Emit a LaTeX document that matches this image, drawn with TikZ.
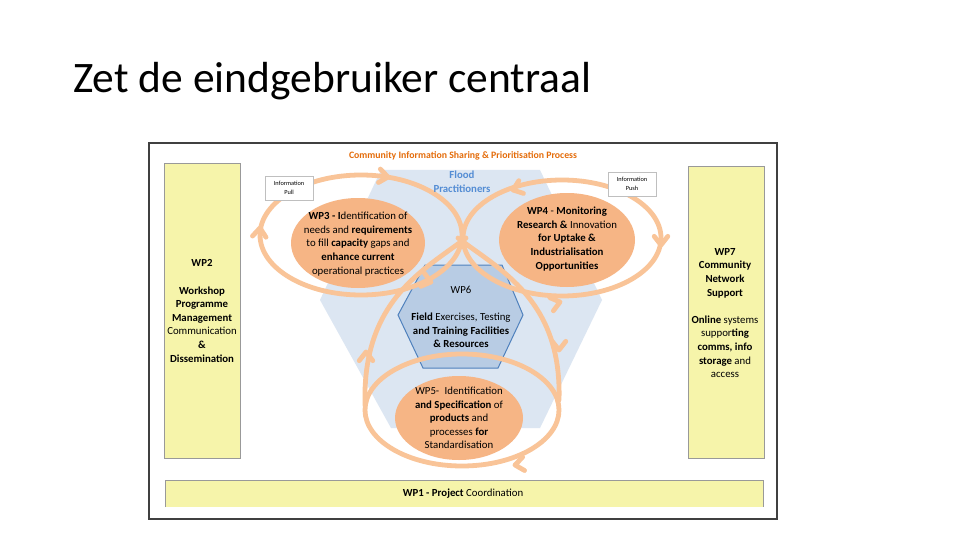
\documentclass[tikz,border=0pt]{standalone}
\usepackage{fontspec}
\setmainfont{Carlito}
\usetikzlibrary{calc}
\definecolor{ringc}{RGB}{249,196,152}
\definecolor{fillc}{RGB}{246,181,133}
\definecolor{yel}{RGB}{246,244,170}
\definecolor{hexbg}{RGB}{220,230,242}
\definecolor{hexwp}{RGB}{184,204,228}
\definecolor{hexbd}{RGB}{79,129,189}
\definecolor{flood}{RGB}{84,141,212}
\definecolor{orangetxt}{RGB}{228,108,10}
\definecolor{framec}{RGB}{64,64,64}
\tikzset{
  ring/.style={draw=ringc, line width=4.8pt, line cap=round, line join=round},
  ybox/.style={fill=yel, draw=gray!80, line width=0.8pt},
  txt/.style={align=center, font=\fontsize{10.8}{13.6}\selectfont, inner sep=0pt},
  infobox/.style={draw=gray!50, fill=white, line width=0.6pt, minimum width=48pt,
    minimum height=24pt, align=center, font=\fontsize{6.3}{8.5}\selectfont, inner sep=0pt},
}
\newcommand{\chev}[2]{\draw[ring] ($(#1)+(#2+180-38:11)$) -- (#1) -- ($(#1)+(#2+180+38:11)$);}
\begin{document}
\begin{tikzpicture}[x=1pt,y=-1pt]
\useasboundingbox (0,0) rectangle (960,540);
\fill[white] (0,0) rectangle (960,540);
% title
\node[anchor=base west, inner sep=0pt, font=\fontsize{43.5}{50}\selectfont] (title) at (73,93) {Zet de eindgebruiker centraal};
% frame
\draw[framec, line width=1.5pt, fill=white] (149,143) rectangle (777,519);
% side boxes
\draw[ybox] (164,163) rectangle (240,458);
\draw[ybox] (688,166) rectangle (764,458);
\fill[yel] (165,480) rectangle (763,507);
\draw[gray!80, line width=0.8pt] (165,507) -- (165,480) -- (763,480) -- (763,507);
% background hexagon
\fill[hexbg] (381,170) -- (540,170) -- (602,300) -- (540,428) -- (391,428) -- (320,300) -- cycle;
% WP6 hexagon
\draw[fill=hexwp, draw=hexbd, line width=1pt] (425,265) -- (502,265) -- (523,315) -- (498,368) -- (423,368) -- (398,315) -- cycle;
% filled ellipses
\fill[fillc] (358,243) ellipse [x radius=67pt, y radius=45pt];
\fill[fillc] (567,240) ellipse [x radius=68pt, y radius=47pt];
\fill[fillc] (459,418) ellipse [x radius=64pt, y radius=42pt];
% rings
\draw[ring] (361,235) ellipse [x radius=101pt, y radius=60pt];
\draw[ring] (562,238) ellipse [x radius=99pt, y radius=58pt];
\draw[ring] (462,410) ellipse [x radius=97pt, y radius=56pt];
\draw[ring] (458,238) .. controls (500,270) and (562,300) .. (559,400);
\draw[ring] (466,238) .. controls (424,270) and (362,300) .. (365,405);
% arrow barbs
\chev{388,177}{8}
\chev{260,228}{275}
\chev{431,282}{15}
\chev{513,190}{160}
\chev{661,245}{90}
\chev{560,302}{-15}
\chev{559,350}{90}
\chev{366,352}{270}
\chev{515,465}{172}
% info boxes
\node[infobox] (pull) at (289,188) {Information\\Pull};
\node[infobox] (push) at (632,184) {Information\\Push};
% texts
\node[inner sep=0pt, font=\fontsize{9.8}{11}\selectfont\bfseries, text=orangetxt] (cis) at (463,156) {Community Information Sharing \& Prioritisation Process};
\node[txt, text=flood, font=\fontsize{10.8}{13.6}\selectfont\bfseries] (flood) at (462,182) {Flood\\Practitioners};
\node[txt] (wp3) at (358,244) {\textbf{WP3 - I}dentification of\\needs and \textbf{requirements}\\to fill \textbf{capacity} gaps and\\\textbf{enhance current}\\operational practices};
\node[txt] (wp4) at (567,239) {\textbf{WP4} - \textbf{Monitoring}\\\textbf{Research \&} Innovation\\\textbf{for Uptake \&}\\\textbf{Industrialisation}\\\textbf{Opportunities}};
\node[txt] (wp6) at (461,317) {WP6\\[13.6pt]\textbf{Field} Exercises, Testing\\\textbf{and Training Facilities}\\\textbf{\& Resources}};
\node[txt] (wp5) at (459,418) {WP5-\enspace Identification\\\textbf{and Specification} of\\\textbf{products} and\\processes \textbf{for}\\Standardisation};
\node[txt] (wp2) at (202,311) {\textbf{WP2}\\[13.6pt]\textbf{Workshop}\\\textbf{Programme}\\\textbf{Management}\\Communication\\\textbf{\&}\\\textbf{Dissemination}};
\node[txt] (wp7) at (725,313) {\textbf{WP7}\\\textbf{Community}\\\textbf{Network}\\\textbf{Support}\\[13.6pt]\textbf{Online} systems\\suppor\textbf{ting}\\\textbf{comms, info}\\\textbf{storage} and\\access};
\node[txt] (wp1) at (463,494) {\textbf{WP1 - Project} Coordination};
\end{tikzpicture}
\end{document}
